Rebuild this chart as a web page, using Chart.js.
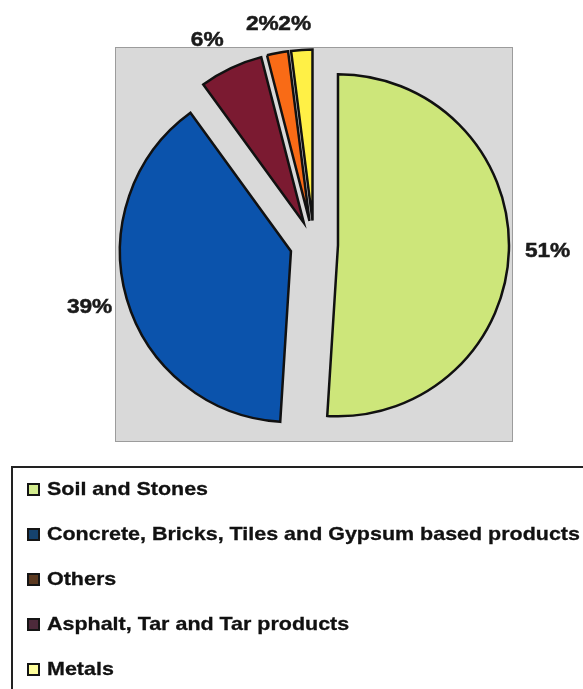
<!DOCTYPE html>
<html><head><meta charset="utf-8">
<script src="https://cdn.jsdelivr.net/npm/chart.js@4/dist/chart.umd.min.js"></script>
<style>
html,body{margin:0;padding:0;background:#fff;overflow:hidden;width:583px;height:689px;}
#wrap{position:relative;width:583px;height:689px;overflow:hidden;}
#c{position:absolute;left:0;top:0;}
#legend{position:absolute;left:11px;top:466px;width:640px;height:280px;border-top:2px solid #222;border-left:2px solid #222;box-sizing:border-box;font:bold 19px "Liberation Sans",Arial,sans-serif;color:#111;}
.item{position:absolute;left:0;height:24px;display:flex;align-items:center;white-space:nowrap;}
.mk{box-sizing:border-box;width:13px;height:13px;border:2px solid #151515;margin-left:14px;margin-right:7px;flex:none;}
.tx{display:inline-block;transform:scaleX(1.13);transform-origin:0 50%;-webkit-text-stroke:0.3px #111;}
</style></head>
<body>
<div id="wrap">
<canvas id="c" width="583" height="689"></canvas>
<div id="legend"></div>
</div>
<script>
// ---- data ----
const categories = [
  "Soil and Stones",
  "Concrete, Bricks, Tiles and Gypsum based products",
  "Others",
  "Asphalt, Tar and Tar products",
  "Metals"
];
const values = [51, 39, 6, 2, 2];
const sliceColors = ["#cde67a", "#0b53ac", "#7b1a31", "#f96b16", "#fff046"];
const legendColors = ["#d3ec8e", "#15426d", "#5b3920", "#4d2a3b", "#ffff9c"];

// ---- style constants ----
const EXPLODE = 24;       // px each slice is pulled out
const LABEL_GAP = 16;     // px between arc and label
const LABEL_STRETCH = 1.08;
const labelNudge = [[0,0],[0,1.5],[-10,-6],[-9,-5],[-5,-2]];

const plotBg = {
  id: 'plotBg',
  beforeDatasetsDraw(chart) {
    const a = chart.chartArea, ctx = chart.ctx;
    ctx.save();
    ctx.fillStyle = '#d9d9d9';
    ctx.fillRect(a.left, a.top, a.right - a.left, a.bottom - a.top);
    ctx.strokeStyle = '#9c9c9c';
    ctx.lineWidth = 1;
    ctx.strokeRect(a.left + 0.5, a.top + 0.5, a.right - a.left - 1, a.bottom - a.top - 1);
    ctx.restore();
  }
};

const explodePlugin = {
  id: 'explode',
  afterUpdate(chart) {
    chart.getDatasetMeta(0).data.forEach(arc => {
      if (arc.__exploded) return;
      const orig = arc.draw;
      arc.draw = function(ctx, area) {
        const mid = (this.startAngle + this.endAngle) / 2;
        ctx.save();
        ctx.translate(Math.cos(mid) * EXPLODE, Math.sin(mid) * EXPLODE);
        orig.call(this, ctx, area);
        ctx.restore();
      };
      arc.__exploded = true;
    });
  }
};

const pctLabels = {
  id: 'pctLabels',
  afterDatasetsDraw(chart) {
    const ctx = chart.ctx;
    const meta = chart.getDatasetMeta(0);
    const total = values.reduce((s, v) => s + v, 0);
    ctx.save();
    ctx.font = 'bold 21px "Liberation Sans", Arial, sans-serif';
    ctx.fillStyle = '#1b1b1b';
    ctx.strokeStyle = '#1b1b1b';
    ctx.lineWidth = 0.5;
    ctx.textAlign = 'center';
    ctx.textBaseline = 'middle';
    meta.data.forEach((arc, i) => {
      const p = arc.getProps(['x','y','startAngle','endAngle','outerRadius'], true);
      const mid = (p.startAngle + p.endAngle) / 2;
      const cx = Math.cos(mid), cy = Math.sin(mid);
      const txt = Math.round(values[i] / total * 100) + '%';
      const w = ctx.measureText(txt).width * LABEL_STRETCH, h = 16;
      const d = EXPLODE + p.outerRadius + LABEL_GAP;
      const x = p.x + cx * d + cx * w / 2 + labelNudge[i][0];
      const y = p.y + cy * d + cy * h / 2 + labelNudge[i][1];
      ctx.save();
      ctx.translate(x, y);
      ctx.scale(LABEL_STRETCH, 1);
      ctx.fillText(txt, 0, 0);
      ctx.strokeText(txt, 0, 0);
      ctx.restore();
    });
    ctx.restore();
  }
};

const chart = new Chart(document.getElementById('c'), {
  type: 'pie',
  data: {
    labels: categories,
    datasets: [{
      data: values,
      backgroundColor: sliceColors,
      borderColor: '#111111',
      borderWidth: 2.5,
      borderJoinStyle: 'miter',
      offset: 0,
      hoverOffset: 0
    }]
  },
  options: {
    responsive: false,
    animation: false,
    devicePixelRatio: 1,
    radius: 171,
    layout: { padding: { left: 115, top: 47, right: 70, bottom: 247 } },
    plugins: {
      legend: { display: false },
      tooltip: { enabled: false }
    },
    events: []
  },
  plugins: [plotBg, explodePlugin, pctLabels]
});

// HTML legend built from the same arrays
const leg = document.getElementById('legend');
categories.forEach((name, i) => {
  const row = document.createElement('div');
  row.className = 'item';
  row.style.top = (21 + 45 * i - 12) + 'px';
  const mk = document.createElement('span');
  mk.className = 'mk';
  mk.style.background = legendColors[i];
  const t = document.createElement('span');
  t.className = 'tx';
  t.textContent = name;
  row.appendChild(mk);
  row.appendChild(t);
  leg.appendChild(row);
});
</script>
</body></html>
